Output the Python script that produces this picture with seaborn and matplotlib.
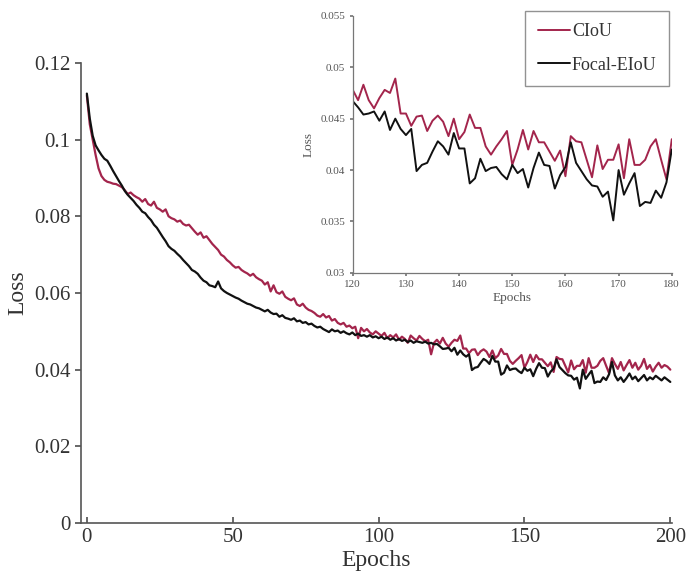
import numpy as np
import pandas as pd
import matplotlib.pyplot as plt
import seaborn as sns

sns.set_theme(style="ticks")
plt.rcParams['font.family'] = ['Liberation Serif', 'DejaVu Serif']

# Loss per epoch (epochs 0..200)
ciou = [
    0.1115, 0.1040, 0.1000, 0.0960, 0.0925, 0.0905, 0.0895, 0.0890, 0.0888, 0.0885,
    0.0884, 0.0880, 0.0876, 0.0868, 0.0858, 0.0862, 0.0855, 0.0850, 0.0846, 0.0838,
    0.0845, 0.0832, 0.0828, 0.0838, 0.0822, 0.0818, 0.0812, 0.0818, 0.0800, 0.0795,
    0.0792, 0.0786, 0.0789, 0.0780, 0.0776, 0.0778, 0.0769, 0.0760, 0.0752, 0.0758,
    0.0744, 0.0748, 0.0738, 0.0728, 0.0720, 0.0712, 0.0700, 0.0695, 0.0686, 0.0680,
    0.0672, 0.0666, 0.0668, 0.0660, 0.0655, 0.0651, 0.0645, 0.0650, 0.0641, 0.0636,
    0.0632, 0.0622, 0.0628, 0.0604, 0.0620, 0.0602, 0.0598, 0.0604, 0.0590, 0.0585,
    0.0581, 0.0586, 0.0570, 0.0566, 0.0572, 0.0562, 0.0556, 0.0553, 0.0548, 0.0541,
    0.0538, 0.0545, 0.0536, 0.0540, 0.0528, 0.0532, 0.0522, 0.0518, 0.0522, 0.0512,
    0.0515, 0.0508, 0.0512, 0.0482, 0.0509, 0.0500, 0.0506, 0.0497, 0.0492, 0.0500,
    0.0494, 0.0488, 0.0496, 0.0482, 0.0490, 0.0484, 0.0492, 0.0478, 0.0486, 0.0480,
    0.0470, 0.0489, 0.0482, 0.0476, 0.0488, 0.0480, 0.0474, 0.0478, 0.0440, 0.0470,
    0.0478, 0.0468, 0.0483, 0.0468, 0.0460, 0.0470, 0.0478, 0.0475, 0.0489, 0.0455,
    0.0455, 0.0443, 0.0452, 0.0453, 0.0438, 0.0448, 0.0453, 0.0447, 0.0433, 0.0450,
    0.0430, 0.0437, 0.0454, 0.0441, 0.0441, 0.0423, 0.0415, 0.0423, 0.0430, 0.0438,
    0.0405, 0.0420, 0.0439, 0.0420, 0.0438, 0.0427, 0.0427, 0.0418, 0.0409, 0.0419,
    0.0394, 0.0433, 0.0428, 0.0427, 0.0410, 0.0393, 0.0424, 0.0401, 0.0410, 0.0410,
    0.0425, 0.0392, 0.0430, 0.0405, 0.0405, 0.0410, 0.0423, 0.0430, 0.0410, 0.0391,
    0.0430, 0.0415, 0.0402, 0.0420, 0.0398, 0.0412, 0.0425, 0.0405, 0.0418, 0.0400,
    0.0410, 0.0428, 0.0402, 0.0412, 0.0395, 0.0408, 0.0418, 0.0405, 0.0412, 0.0408,
    0.0400,
]
focal_eiou = [
    0.1120, 0.1055, 0.1010, 0.0985, 0.0972, 0.0960, 0.0950, 0.0945, 0.0932, 0.0918,
    0.0905, 0.0892, 0.0880, 0.0866, 0.0856, 0.0848, 0.0840, 0.0830, 0.0822, 0.0812,
    0.0808, 0.0798, 0.0790, 0.0778, 0.0770, 0.0758, 0.0746, 0.0735, 0.0722, 0.0715,
    0.0710, 0.0702, 0.0695, 0.0686, 0.0678, 0.0670, 0.0660, 0.0656, 0.0650, 0.0640,
    0.0632, 0.0628, 0.0620, 0.0618, 0.0615, 0.0630, 0.0612, 0.0605, 0.0600, 0.0596,
    0.0592, 0.0588, 0.0585, 0.0580, 0.0576, 0.0572, 0.0570, 0.0566, 0.0562, 0.0560,
    0.0556, 0.0552, 0.0556, 0.0549, 0.0545, 0.0546, 0.0538, 0.0542, 0.0535, 0.0533,
    0.0530, 0.0534, 0.0526, 0.0528, 0.0522, 0.0524, 0.0518, 0.0520, 0.0514, 0.0510,
    0.0512, 0.0506, 0.0502, 0.0498, 0.0505, 0.0500, 0.0502, 0.0496, 0.0500, 0.0495,
    0.0492, 0.0497, 0.0490, 0.0494, 0.0488, 0.0490, 0.0486, 0.0490, 0.0484, 0.0487,
    0.0482, 0.0486, 0.0480, 0.0484, 0.0478, 0.0482, 0.0476, 0.0480, 0.0475, 0.0478,
    0.0472, 0.0476, 0.0470, 0.0474, 0.0472, 0.0470, 0.0473, 0.0468, 0.0470, 0.0466,
    0.0467, 0.0461, 0.0454, 0.0455, 0.0457, 0.0448, 0.0457, 0.0439, 0.0450, 0.0440,
    0.0434, 0.0440, 0.0399, 0.0405, 0.0407, 0.0418, 0.0428, 0.0423, 0.0415, 0.0436,
    0.0421, 0.0421, 0.0387, 0.0392, 0.0411, 0.0399, 0.0402, 0.0403, 0.0396, 0.0391,
    0.0405, 0.0397, 0.0401, 0.0383, 0.0402, 0.0417, 0.0405, 0.0404, 0.0382, 0.0395,
    0.0403, 0.0427, 0.0407, 0.0399, 0.0391, 0.0385, 0.0384, 0.0374, 0.0379, 0.0351,
    0.0400, 0.0376, 0.0387, 0.0397, 0.0365, 0.0369, 0.0368, 0.0380, 0.0373, 0.0388,
    0.0420, 0.0385, 0.0372, 0.0380, 0.0368, 0.0378, 0.0390, 0.0375, 0.0382, 0.0370,
    0.0378, 0.0386, 0.0372, 0.0380, 0.0375, 0.0384, 0.0378, 0.0372, 0.0380, 0.0374,
    0.0368,
]
epochs = list(range(len(ciou)))

df = pd.DataFrame({
    'Epochs': epochs * 2,
    'Loss': ciou + focal_eiou,
    'Method': ['CIoU'] * len(ciou) + ['Focal-EIoU'] * len(focal_eiou),
})
palette = {'CIoU': '#a3254c', 'Focal-EIoU': '#111111'}

fig = plt.figure(figsize=(6.89, 5.88), dpi=100)
ax = fig.add_axes([0.1176, 0.1105, 0.8574, 0.7825])
sns.lineplot(data=df, x='Epochs', y='Loss', hue='Method', palette=palette,
             linewidth=1.6, legend=False, ax=ax)
ax.set_xlim(-2, 200.5)
ax.set_ylim(0, 0.12)
ax.set_xticks([0, 50, 100, 150, 200])
ax.set_yticks([0, 0.02, 0.04, 0.06, 0.08, 0.1, 0.12])
ax.set_yticklabels(['0', '0.02', '0.04', '0.06', '0.08', '0.1', '0.12'])
ax.set_xlabel('Epochs', fontsize=17, color='#333333', labelpad=2)
ax.set_ylabel('Loss', fontsize=17, color='#333333')
ax.tick_params(axis='both', labelsize=15, colors='#555555', labelcolor='#333333')
ax.tick_params(axis='x', direction='in', length=4)
ax.tick_params(axis='y', direction='out', length=4)
sns.despine(ax=ax)
for s in ['left', 'bottom']:
    ax.spines[s].set_color('#555555')
    ax.spines[s].set_linewidth(1.2)

# zoomed inset, epochs 120-180
ins = fig.add_axes([0.512, 0.536, 0.463, 0.437])
sub = df[(df['Epochs'] >= 120) & (df['Epochs'] <= 180)]
sns.lineplot(data=sub, x='Epochs', y='Loss', hue='Method', palette=palette,
             linewidth=1.4, ax=ins)
ins.set_xlim(120, 180)
ins.set_ylim(0.03, 0.055)
ins.set_xticks([120, 130, 140, 150, 160, 170, 180])
ins.set_yticks([0.03, 0.035, 0.04, 0.045, 0.05, 0.055])
ins.set_yticklabels(['0.03', '0.035', '0.04', '0.045', '0.05', '0.055'])
ins.set_xlabel('Epochs', fontsize=9.5, color='#555555', labelpad=2)
ins.set_ylabel('Loss', fontsize=9.5, color='#555555')
ins.tick_params(axis='both', labelsize=8, colors='#777777', labelcolor='#555555',
                length=2)
sns.despine(ax=ins)
for s in ['left', 'bottom']:
    ins.spines[s].set_color('#777777')
    ins.spines[s].set_linewidth(0.9)
ins.patch.set_alpha(0)

leg = ins.legend(loc='upper right', bbox_to_anchor=(1.02, 1.055), fontsize=13,
                 frameon=True, fancybox=False, handlelength=1.8,
                 handletextpad=0.1, labelspacing=0.9, borderpad=0.7)
leg.get_frame().set_edgecolor('#777777')
leg.get_frame().set_linewidth(1.0)
for t in leg.get_texts():
    t.set_color('#333333')

fig.savefig('out.png', dpi=100)
